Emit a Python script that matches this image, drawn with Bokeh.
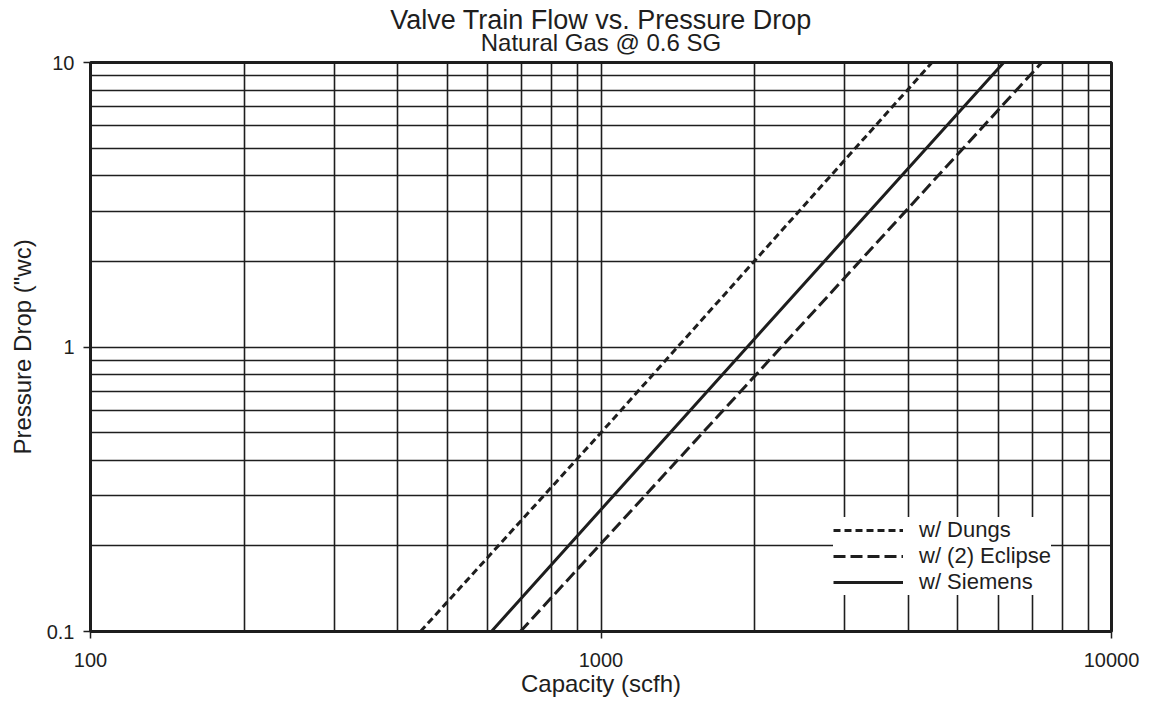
from bokeh.plotting import figure
from bokeh.models import FixedTicker, Title, Legend, LegendItem
from bokeh.embed import file_html
from bokeh.resources import INLINE

# ---- data ----
dungs_q = [443, 1000, 4450]
dungs_dp = [0.1, 0.5, 10]
eclipse_q = [695, 2000, 7300]
eclipse_dp = [0.1, 0.79, 10]
siemens_q = [610, 2000, 6150]
siemens_dp = [0.1, 1.07, 10]

x_major = [100, 1000, 10000]
y_major = [0.1, 1, 10]
x_grid = [m * 10 ** e for e in (2, 3) for m in range(1, 10)] + [10000]
y_grid = [round(m * 10 ** e, 3) for e in (-1, 0) for m in range(1, 10)] + [10]

title_text = "Valve Train Flow vs. Pressure Drop"
subtitle_text = "Natural Gas @ 0.6 SG"

FONT = "Liberation Sans"
INK = "#1e1e1e"

p = figure(frame_width=1021, frame_height=569, x_axis_type="log", y_axis_type="log",
           x_range=(100, 10000), y_range=(0.1, 10),
           output_backend="svg", toolbar_location=None,
           min_border_left=90, min_border_right=29, min_border_top=62, min_border_bottom=70)

p.add_layout(Title(text=subtitle_text, align="center", text_font=FONT,
                   text_font_size="24px", text_font_style="normal", text_color=INK,
                   standoff=13), "above")
p.add_layout(Title(text=title_text, align="center", text_font=FONT,
                   text_font_size="27px", text_font_style="normal", text_color=INK,
                   standoff=-28), "above")

p.outline_line_color = INK
p.outline_line_width = 3
p.outline_line_alpha = 1

for ax in (p.xaxis[0], p.yaxis[0]):
    ax.axis_line_color = INK
    ax.axis_line_width = 2.5
    ax.major_tick_line_color = INK
    ax.major_tick_line_width = 1.5
    ax.major_tick_out = 7
    ax.major_tick_in = 0
    ax.minor_tick_line_color = None
    ax.major_label_text_font = FONT
    ax.major_label_text_font_size = "20px"
    ax.major_label_text_color = INK
    ax.axis_label_text_font = FONT
    ax.axis_label_text_font_size = "24px"
    ax.axis_label_text_font_style = "normal"
    ax.axis_label_text_color = INK

p.xaxis.ticker = FixedTicker(ticks=x_major)
p.yaxis.ticker = FixedTicker(ticks=y_major)
p.xaxis.major_label_overrides = {v: str(v) for v in x_major}
p.yaxis.major_label_overrides = {v: str(v) for v in y_major}
p.xaxis.axis_label = "Capacity (scfh)"
p.yaxis.axis_label = "Pressure Drop (\"wc)"
p.xaxis.major_label_standoff = 14
p.yaxis.major_label_standoff = 9
p.xaxis.axis_label_standoff = 0
p.yaxis.axis_label_standoff = 8

p.xgrid.ticker = FixedTicker(ticks=x_grid)
p.ygrid.ticker = FixedTicker(ticks=y_grid)
for g in (p.xgrid[0], p.ygrid[0]):
    g.grid_line_color = INK
    g.grid_line_width = 1.6
    g.grid_line_alpha = 1

r_d = p.line(dungs_q, dungs_dp, line_color=INK, line_width=3, line_dash="7 4")
r_e = p.line(eclipse_q, eclipse_dp, line_color=INK, line_width=3, line_dash="12 5")
r_s = p.line(siemens_q, siemens_dp, line_color=INK, line_width=3)

legend = Legend(items=[LegendItem(label="w/ Dungs", renderers=[r_d]),
                       LegendItem(label="w/ (2) Eclipse", renderers=[r_e]),
                       LegendItem(label="w/ Siemens", renderers=[r_s])],
                location=(743, 36), orientation="vertical",
                label_text_font=FONT, label_text_font_size="22px", label_text_color=INK,
                glyph_width=70, glyph_height=22, label_height=22, label_standoff=16,
                spacing=0, padding=9, margin=0,
                border_line_color=None, background_fill_color="white", background_fill_alpha=1)
p.add_layout(legend, "center")

open("out.html", "w").write(file_html(p, INLINE))
